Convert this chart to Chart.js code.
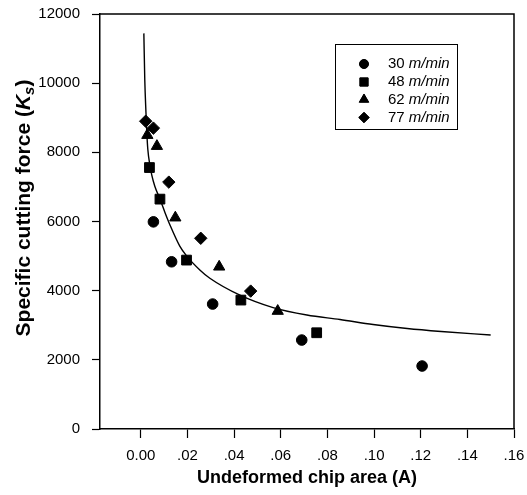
<!DOCTYPE html>
<html>
<head>
<meta charset="utf-8">
<script src="https://cdn.jsdelivr.net/npm/chart.js@4"></script>
<style>
  html, body { margin: 0; padding: 0; background: #fff; }
  #wrap { width: 527px; height: 495px; position: relative; }
</style>
</head>
<body>
<div id="wrap"><canvas id="chart"></canvas></div>
<script>
// Measured points, chip area (A) vs specific cutting force (Ks)
const speeds = ['30', '48', '62', '77'];
const a30 = [0.0054, 0.0132, 0.0308, 0.069, 0.1206];
const ks30 = [5990, 4835, 3613, 2572, 1821];
const a48 = [0.0037, 0.0082, 0.0196, 0.0429, 0.0754];
const ks48 = [7560, 6647, 4884, 3728, 2783];
const a62 = [0.0028, 0.0069, 0.0148, 0.0336, 0.0587];
const ks62 = [8497, 8179, 6110, 4690, 3410];
const a77 = [0.0021, 0.0054, 0.012, 0.0257, 0.0471];
const ks77 = [8900, 8700, 7139, 5515, 3988];

// fitted curve
const fitA = [0.0013, 0.0017, 0.0022, 0.0026, 0.0030, 0.0039, 0.0047, 0.0060, 0.0082, 0.0103,
  0.0125, 0.0167, 0.0197, 0.0253, 0.0296, 0.0425, 0.0567, 0.0712, 0.0854, 0.0996, 0.1142, 0.1288, 0.15];
const fitKs = [11440, 10090, 9160, 8530, 8090, 7630, 7340, 7020, 6650, 6270,
  5900, 5290, 5000, 4600, 4360, 3870, 3510, 3295, 3165, 3020, 2904, 2818, 2717];

const xTicks = [0, 0.02, 0.04, 0.06, 0.08, 0.10, 0.12, 0.14, 0.16];
const xTickLabels = ['0.00', '.02', '.04', '.06', '.08', '.10', '.12', '.14', '.16'];
const yTicks = [0, 2000, 4000, 6000, 8000, 10000, 12000];

const FONT = 'Arial, "Liberation Sans", Helvetica, sans-serif';
Chart.defaults.font.family = FONT;
Chart.defaults.color = '#000';

function pts(xs, ys) {
  return xs.map((x, i) => ({ x: x, y: ys[i] }));
}

function markerSet(label, xs, ys, style, r) {
  return {
    type: 'scatter',
    label: label,
    data: pts(xs, ys),
    pointStyle: style,
    pointRadius: r,
    pointBackgroundColor: '#000',
    pointBorderColor: '#000',
    pointBorderWidth: 1
  };
}

// Frame top/right + custom legend + rotated y title
const extras = {
  id: 'extras',
  afterDraw(chart) {
    const ctx = chart.ctx;
    const area = chart.chartArea;
    ctx.save();
    ctx.strokeStyle = '#000';
    ctx.lineWidth = 1.5;
    ctx.beginPath();
    ctx.moveTo(area.left, area.top);
    ctx.lineTo(area.right, area.top);
    ctx.lineTo(area.right, area.bottom);
    ctx.stroke();

    // legend box
    ctx.lineWidth = 1;
    ctx.strokeRect(335.5, 44.5, 122, 85);
    const rowY = [64, 82, 99.5, 117.5];
    chart.data.datasets.slice(0, 4).forEach((ds, i) => {
      ctx.fillStyle = '#000';
      Chart.helpers.drawPoint(ctx, {
        pointStyle: ds.pointStyle,
        radius: ds.pointRadius * 0.85,
        borderWidth: 1
      }, 364, rowY[i]);
      ctx.fill();
      ctx.textBaseline = 'middle';
      ctx.textAlign = 'left';
      ctx.font = '15px ' + FONT;
      const num = speeds[i] + ' ';
      ctx.fillText(num, 388, rowY[i]);
      const w = ctx.measureText(num).width;
      ctx.font = 'italic 15px ' + FONT;
      ctx.fillText('m/min', 388 + w, rowY[i]);
    });

    // y axis title with italic K and subscript s
    ctx.translate(30, 208);
    ctx.rotate(-Math.PI / 2);
    const parts = [
      { t: 'Specific cutting force (', f: 'bold 21px ' + FONT, dy: 0 },
      { t: 'K', f: 'italic bold 21px ' + FONT, dy: 0 },
      { t: 's', f: 'italic bold 15px ' + FONT, dy: 4 },
      { t: ')', f: 'bold 21px ' + FONT, dy: 0 }
    ];
    let total = 0;
    parts.forEach(p => { ctx.font = p.f; p.w = ctx.measureText(p.t).width; total += p.w; });
    let x = -total / 2;
    ctx.textBaseline = 'alphabetic';
    parts.forEach(p => {
      ctx.font = p.f;
      ctx.fillText(p.t, x, p.dy);
      x += p.w;
    });
    ctx.restore();
  }
};

new Chart(document.getElementById('chart'), {
  type: 'scatter',
  data: {
    datasets: [
      markerSet('30 m/min', a30, ks30, 'circle', 5.3),
      markerSet('48 m/min', a48, ks48, 'rect', 6.9),
      markerSet('62 m/min', a62, ks62, 'triangle', 6.5),
      markerSet('77 m/min', a77, ks77, 'rectRot', 6.2),
      {
        type: 'line',
        label: 'fit',
        data: pts(fitA, fitKs),
        borderColor: '#000',
        borderWidth: 1.4,
        pointRadius: 0,
        fill: false,
        cubicInterpolationMode: 'monotone'
      }
    ]
  },
  options: {
    responsive: true,
    maintainAspectRatio: false,
    animation: false,
    layout: { padding: { top: 14, right: 13, left: 0, bottom: 0 } },
    plugins: {
      legend: { display: false },
      tooltip: { enabled: false }
    },
    scales: {
      x: {
        type: 'linear',
        min: -0.0175,
        max: 0.16,
        afterBuildTicks: s => { s.ticks = xTicks.map(v => ({ value: v })); },
        afterFit: s => { s.height = 66; s.paddingLeft = 0; s.paddingRight = 10; },
        ticks: {
          autoSkip: false,
          maxRotation: 0,
          padding: 9,
          font: { size: 15 },
          callback: (v, i) => xTickLabels[i]
        },
        grid: { drawOnChartArea: false, drawTicks: true, tickLength: 9, tickWidth: 1.2, tickColor: '#000' },
        border: { color: '#000', width: 1.5 },
        title: {
          display: true,
          text: 'Undeformed chip area (A)',
          font: { size: 18, weight: 'bold' },
          padding: { top: 0, bottom: 6 }
        }
      },
      y: {
        type: 'linear',
        min: 0,
        max: 12000,
        afterBuildTicks: s => { s.ticks = yTicks.map(v => ({ value: v })); },
        afterFit: s => { s.width = 100; s.paddingTop = 0; s.paddingBottom = 0; },
        ticks: {
          padding: 12,
          font: { size: 15 },
          callback: v => String(v)
        },
        grid: { drawOnChartArea: false, drawTicks: true, tickLength: 8, tickWidth: 1.2, tickColor: '#000' },
        border: { color: '#000', width: 1.5 }
      }
    }
  },
  plugins: [extras]
});
</script>
</body>
</html>
